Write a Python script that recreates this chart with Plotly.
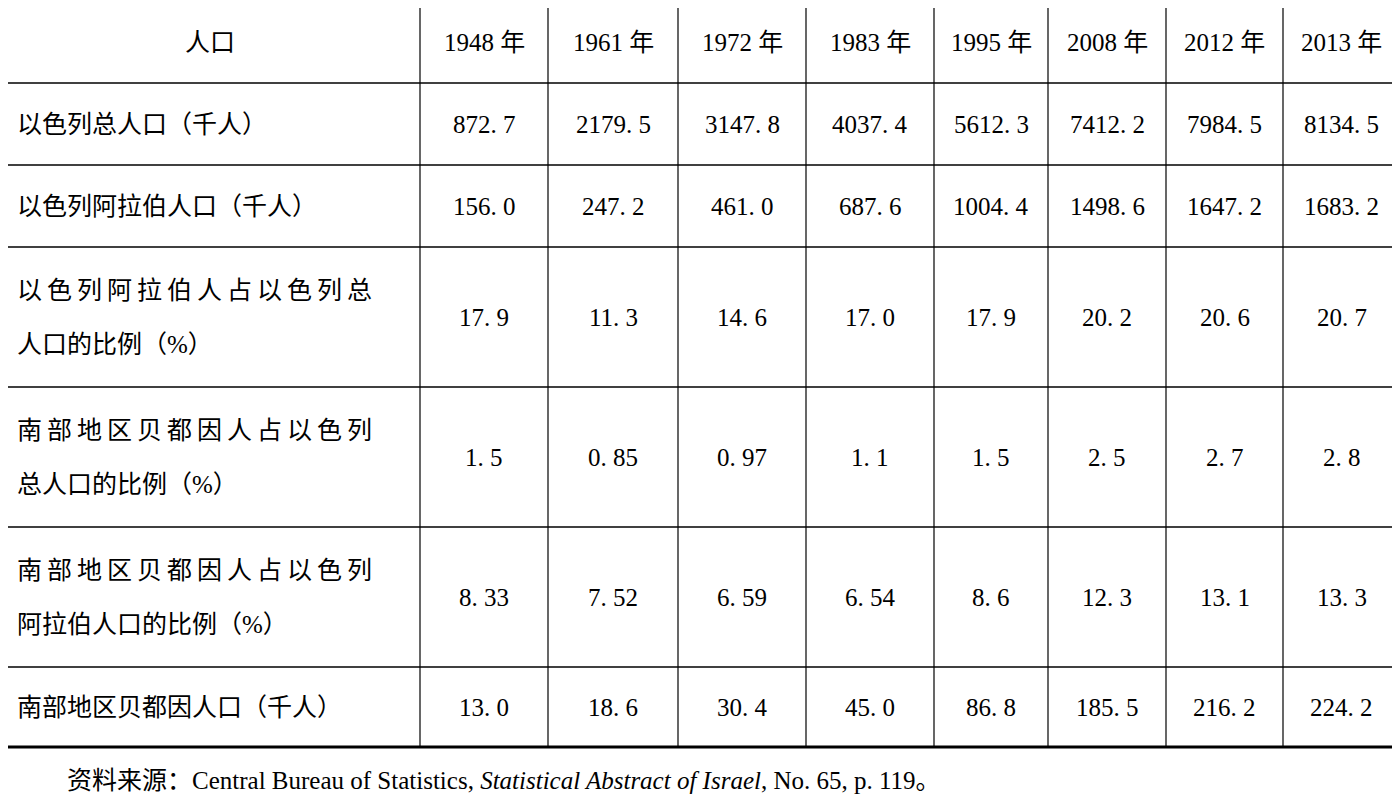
import plotly.graph_objects as go

header = ["人口", "1948 年", "1961 年", "1972 年", "1983 年", "1995 年", "2008 年", "2012 年", "2013 年"]
row_labels = [
    ["以色列总人口（千人）"],
    ["以色列阿拉伯人口（千人）"],
    ["以色列阿拉伯人占以色列总", "人口的比例（%）"],
    ["南部地区贝都因人占以色列", "总人口的比例（%）"],
    ["南部地区贝都因人占以色列", "阿拉伯人口的比例（%）"],
    ["南部地区贝都因人口（千人）"],
]
total_pop = ["872. 7", "2179. 5", "3147. 8", "4037. 4", "5612. 3", "7412. 2", "7984. 5", "8134. 5"]
arab_pop = ["156. 0", "247. 2", "461. 0", "687. 6", "1004. 4", "1498. 6", "1647. 2", "1683. 2"]
arab_share = ["17. 9", "11. 3", "14. 6", "17. 0", "17. 9", "20. 2", "20. 6", "20. 7"]
bedouin_share_total = ["1. 5", "0. 85", "0. 97", "1. 1", "1. 5", "2. 5", "2. 7", "2. 8"]
bedouin_share_arab = ["8. 33", "7. 52", "6. 59", "6. 54", "8. 6", "12. 3", "13. 1", "13. 3"]
bedouin_pop = ["13. 0", "18. 6", "30. 4", "45. 0", "86. 8", "185. 5", "216. 2", "224. 2"]
rows = [total_pop, arab_pop, arab_share, bedouin_share_total, bedouin_share_arab, bedouin_pop]
source_note = "资料来源：Central Bureau of Statistics, <i>Statistical Abstract of Israel</i>, No. 65, p. 119。"

# layout geometry (pixels)
col_edges = [0, 420, 548, 678, 806, 934, 1048, 1166, 1283, 1400]
row_edges = [2, 83, 165, 247, 387, 527, 667, 747]
FONT = "Liberation Serif, Noto Sans CJK SC, serif"
FS = 25
OFF = 8  # page body margin compensation

fig = go.Figure()
shapes, ann = [], []
for i, y in enumerate(row_edges):
    w = 3 if i in (0, len(row_edges) - 1) else 1.5
    shapes.append(dict(type="line", x0=0, x1=1400, y0=y, y1=y, line=dict(color="black", width=w)))
for x in col_edges[1:-1]:
    shapes.append(dict(type="line", x0=x, x1=x, y0=row_edges[0], y1=row_edges[-1], line=dict(color="black", width=1.2)))

def cx(j):
    return (col_edges[j] + col_edges[j + 1]) / 2

def cy(i):
    return (row_edges[i] + row_edges[i + 1]) / 2

for j, h in enumerate(header):
    ann.append(dict(x=cx(j), y=cy(0), text=h, showarrow=False, font=dict(size=FS, family=FONT, color="black")))

for r, (lab, vals) in enumerate(zip(row_labels, rows)):
    ri = r + 1
    if len(lab) == 1:
        ann.append(dict(x=15, y=cy(ri), text=lab[0], xanchor="left", showarrow=False,
                        font=dict(size=FS, family=FONT, color="black")))
    else:
        ann.append(dict(x=15, y=cy(ri) - 27, text="\u2009".join(lab[0]), xanchor="left", showarrow=False,
                        font=dict(size=FS, family=FONT, color="black")))
        ann.append(dict(x=15, y=cy(ri) + 27, text=lab[1], xanchor="left", showarrow=False,
                        font=dict(size=FS, family=FONT, color="black")))
    for j, v in enumerate(vals):
        ann.append(dict(x=cx(j + 1), y=cy(ri), text=v, showarrow=False,
                        font=dict(size=FS, family=FONT, color="black")))

ann.append(dict(x=65, y=780, text=source_note, xanchor="left", showarrow=False,
                font=dict(size=FS, family=FONT, color="black")))

fig.update_layout(
    width=1400 - 2 * OFF, height=802 - 2 * OFF, margin=dict(l=0, r=0, t=0, b=0),
    paper_bgcolor="white", plot_bgcolor="white",
    xaxis=dict(range=[OFF, 1400 - OFF], visible=False, fixedrange=True),
    yaxis=dict(range=[802 - OFF, OFF], visible=False, fixedrange=True),
    shapes=shapes, annotations=ann, showlegend=False,
)
fig.write_html("out.html")
